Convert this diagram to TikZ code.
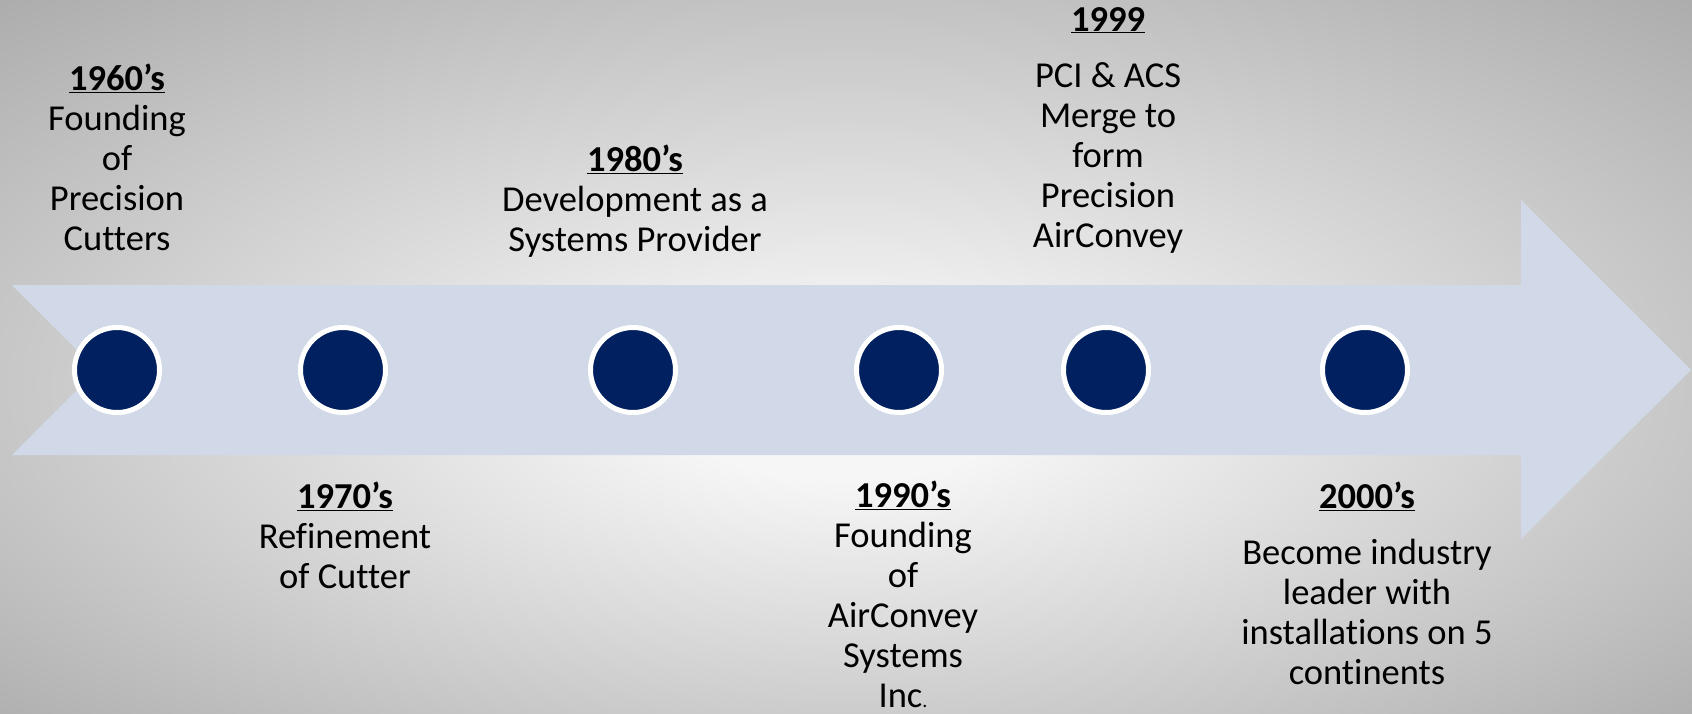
\documentclass[tikz,border=0pt]{standalone}
\usepackage{fontspec}
\setmainfont{Carlito}[Ligatures=NoCommon]
\usepackage{tikz}
\definecolor{navy}{HTML}{002060}
\definecolor{shaft}{HTML}{D1D8E7}
\definecolor{bgcenter}{HTML}{F6F6F6}
\definecolor{bgedge}{HTML}{A6A6A6}
\pgfdeclareradialshading{backdrop}{\pgfpoint{0bp}{-4bp}}{color(0bp)=(bgcenter); color(5bp)=(bgcenter); color(39bp)=(bgedge); color(50bp)=(bgedge)}
\tikzset{
    dot/.style={shape=circle, draw=white, line width=5pt, fill=navy, minimum size=85pt, inner sep=0pt},
    event/.style={anchor=north, align=center, inner sep=0pt, font=\fontsize{36.5}{40}\selectfont}}
\newcommand{\yr}[1]{\underline{\textbf{#1}}}

\begin{document}
\begin{tikzpicture}[x=1pt, y=-1pt]

                    \shade[shading=backdrop] (0,0) rectangle (1692,714);
                    \useasboundingbox (0,0) rectangle (1692,714);

                    \fill[shaft] (12,285) -- (1521,285) -- (1521,200) -- (1691,370) -- (1521,539) -- (1521,455) -- (12,455) -- (97,370) -- cycle;

                    \node[dot] (c60) at (117,370) {};
                    \node[dot] (c70) at (343,370) {};
                    \node[dot] (c80) at (633,370) {};
                    \node[dot] (c90) at (899,370) {};
                    \node[dot] (c99) at (1106,370) {};
                    \node[dot] (c00) at (1365,370) {};

                    \node[event] (t60) at (117,64) {\yr{1960’s}\\Founding\\of\\Precision\\Cutters};
                    \node[event] (t70) at (345,482) {\yr{1970’s}\\Refinement\\of Cutter};
                    \node[event] (t80) at (635,145) {\yr{1980’s}\\Development as a\\Systems Provider};
                    \node[event] (t90) at (903,481) {\yr{1990’s}\\Founding\\of\\AirConvey\\Systems\\Inc{\fontsize{20}{20}\selectfont.}};
                    \node[event] (t99) at (1108,7) {\yr{1999}\\[16pt]PCI \& ACS\\Merge to\\form\\Precision\\AirConvey};
                    \node[event] (t00) at (1367,482) {\yr{2000’s}\\[16pt]Become industry\\leader with\\installations on 5\\continents};

\end{tikzpicture}
\end{document}
